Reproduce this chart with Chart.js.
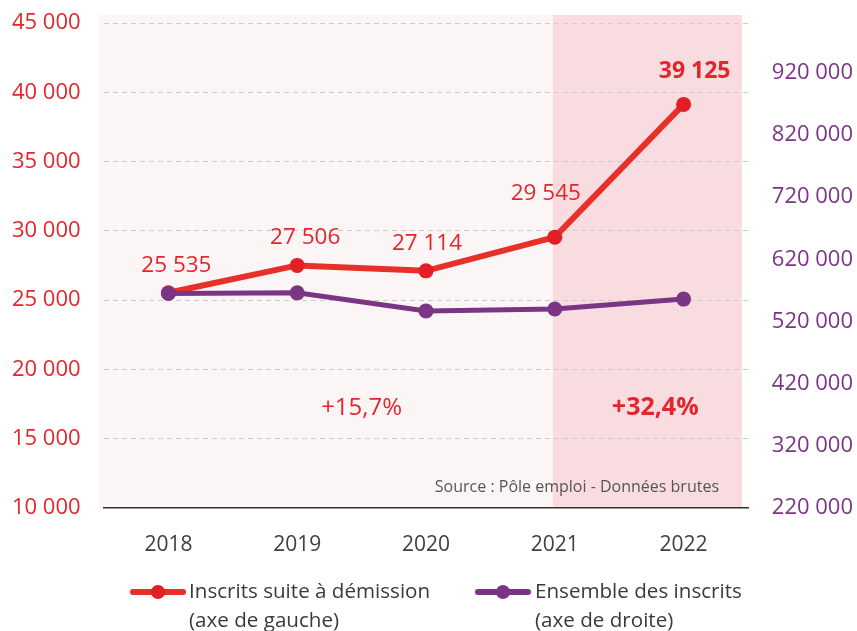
<!DOCTYPE html>
<html>
<head>
<meta charset="utf-8">
<script src="https://cdn.jsdelivr.net/npm/chart.js@4.4.0/dist/chart.umd.min.js"></script>
<style>
  html, body { margin: 0; padding: 0; background: #fff; }
  #wrap { position: relative; width: 857px; height: 631px; overflow: hidden; }
  #legend { position: absolute; left: 0; top: 0; width: 857px; height: 631px; pointer-events: none;
            font-family: 'Open Sans', sans-serif; font-size: 20.6px; color: #3a3a3a; }
  .txt { position: absolute; line-height: 29px; white-space: nowrap; }
  .mark { position: absolute; width: 56px; height: 6px; border-radius: 3px; }
  .mark span { position: absolute; left: 21px; top: -4px; width: 14px; height: 14px; border-radius: 50%; }
</style>
</head>
<body>
<div id="wrap">
  <canvas id="chart" width="857" height="631"></canvas>
  <div id="legend"></div>
</div>
<script>
// données
const years = ['2018', '2019', '2020', '2021', '2022'];
const inscritsDemission = [25535, 27506, 27114, 29545, 39125];
const ensembleInscrits = [565000, 566000, 537000, 540000, 556000];
const leftTicks = [10000, 15000, 20000, 25000, 30000, 35000, 40000, 45000];
const rightTicks = [220000, 320000, 420000, 520000, 620000, 720000, 820000, 920000];
const variations = ['+15,7%', '+32,4%'];
const legendLabels = [
  ['Inscrits suite à démission', '(axe de gauche)'],
  ['Ensemble des inscrits', '(axe de droite)']
];
const sourceText = 'Source : Pôle emploi - Données brutes';

const RED = '#e3262c';
const PURPLE = '#7b3585';
const FONT = "'Open Sans', sans-serif";

// format 25 535
function fmt(v) {
  return String(v).replace(/\B(?=(\d{3})+(?!\d))/g, ' ');
}

// décalage des étiquettes par rapport aux points (dx, dy)
const labelOffsets = [[8, -27], [8, -28], [1, -27], [-9, -44], [11, -33]];

// fonds roses
const bgPlugin = {
  id: 'bg',
  beforeDraw(chart) {
    const { ctx, chartArea } = chart;
    const x = chart.scales.x;
    const split = x.getPixelForValue(3) - 2;
    ctx.save();
    ctx.fillStyle = '#fcf5f5';
    ctx.fillRect(chartArea.left - 5, chartArea.top - 8, split - chartArea.left + 5, chartArea.bottom - chartArea.top + 8);
    ctx.fillStyle = '#f9dcdf';
    ctx.fillRect(split, chartArea.top - 8, chartArea.right - 6 - split, chartArea.bottom - chartArea.top + 8);
    ctx.restore();
  }
};

// étiquettes et annotations
const labelPlugin = {
  id: 'labels',
  afterDatasetsDraw(chart) {
    const { ctx } = chart;
    const meta = chart.getDatasetMeta(0);
    const x = chart.scales.x;
    const yL = chart.scales.yL;
    ctx.save();
    ctx.textAlign = 'center';
    ctx.textBaseline = 'middle';
    ctx.fillStyle = RED;
    meta.data.forEach((pt, i) => {
      const last = i === meta.data.length - 1;
      ctx.font = (last ? 'bold 23px ' : '22.5px ') + FONT;
      ctx.fillText(fmt(inscritsDemission[i]), pt.x + labelOffsets[i][0], pt.y + labelOffsets[i][1]);
    });
    const yAnn = yL.getPixelForValue(17200);
    ctx.font = '24px ' + FONT;
    ctx.fillText(variations[0], (x.getPixelForValue(1) + x.getPixelForValue(2)) / 2, yAnn);
    ctx.font = 'bold 25px ' + FONT;
    const x3 = x.getPixelForValue(3), x4 = x.getPixelForValue(4);
    ctx.fillText(variations[1], x3 + (x4 - x3) * 0.78, yAnn);
    ctx.textAlign = 'right';
    ctx.font = '16px ' + FONT;
    ctx.fillStyle = '#555';
    ctx.fillText(sourceText, chart.chartArea.right - 29, yL.getPixelForValue(11450));
    ctx.restore();
  }
};

new Chart(document.getElementById('chart'), {
  type: 'line',
  data: {
    labels: years,
    datasets: [
      {
        label: legendLabels[0].join(' '),
        data: inscritsDemission,
        yAxisID: 'yL',
        order: 2,
        borderColor: '#e8302a',
        borderWidth: 6,
        pointRadius: 7.5,
        pointBackgroundColor: '#e31e24',
        pointBorderWidth: 0,
        tension: 0
      },
      {
        label: legendLabels[1].join(' '),
        data: ensembleInscrits,
        yAxisID: 'yR',
        order: 1,
        borderColor: PURPLE,
        borderWidth: 5,
        pointRadius: 7.5,
        pointBackgroundColor: PURPLE,
        pointBorderWidth: 0,
        tension: 0
      }
    ]
  },
  options: {
    responsive: false,
    animation: false,
    layout: { padding: { top: 23, left: 12, right: 4 } },
    plugins: { legend: { display: false }, tooltip: { enabled: false } },
    scales: {
      x: {
        offset: true,
        grid: { display: false },
        border: { display: true, color: '#333', width: 1.5 },
        ticks: { color: '#404040', font: { family: FONT, size: 21 }, padding: 16 },
        afterFit(s) { s.height = 123; }
      },
      yL: {
        position: 'left',
        min: 10000,
        max: 45000,
        afterBuildTicks(s) { s.ticks = leftTicks.map(v => ({ value: v })); },
        ticks: { color: RED, font: { family: FONT, size: 22 }, padding: 0, crossAlign: 'far', callback: v => fmt(v) },
        grid: {
          drawTicks: false,
          color: c => (c.tick && c.tick.value === 10000 ? 'rgba(0,0,0,0)' : '#cccccc'),
          lineWidth: 1
        },
        border: { display: false, dash: [5, 4] },
        afterFit(s) { s.width = 92; }
      },
      yR: {
        position: 'right',
        min: 220000,
        max: 1000000,
        afterBuildTicks(s) { s.ticks = rightTicks.map(v => ({ value: v })); },
        ticks: { color: PURPLE, font: { family: FONT, size: 22 }, padding: 0, crossAlign: 'far', callback: v => fmt(v) },
        grid: { display: false, drawTicks: false },
        border: { display: false },
        afterFit(s) { s.width = 105; }
      }
    }
  },
  plugins: [bgPlugin, labelPlugin]
});

// légende HTML
const legend = document.getElementById('legend');
const legendPos = [{ mark: 130, text: 189 }, { mark: 475, text: 535 }];
const legendColors = ['#e8302a', PURPLE];
legendLabels.forEach((lines, i) => {
  const m = document.createElement('div');
  m.className = 'mark';
  m.style.left = legendPos[i].mark + 'px';
  m.style.top = '589px';
  m.style.background = legendColors[i];
  const dot = document.createElement('span');
  dot.style.background = i === 0 ? '#e31e24' : PURPLE;
  m.appendChild(dot);
  legend.appendChild(m);
  const t = document.createElement('div');
  t.className = 'txt';
  t.style.left = legendPos[i].text + 'px';
  t.style.top = '576px';
  t.innerHTML = lines.join('<br>');
  legend.appendChild(t);
});
</script>
</body>
</html>
